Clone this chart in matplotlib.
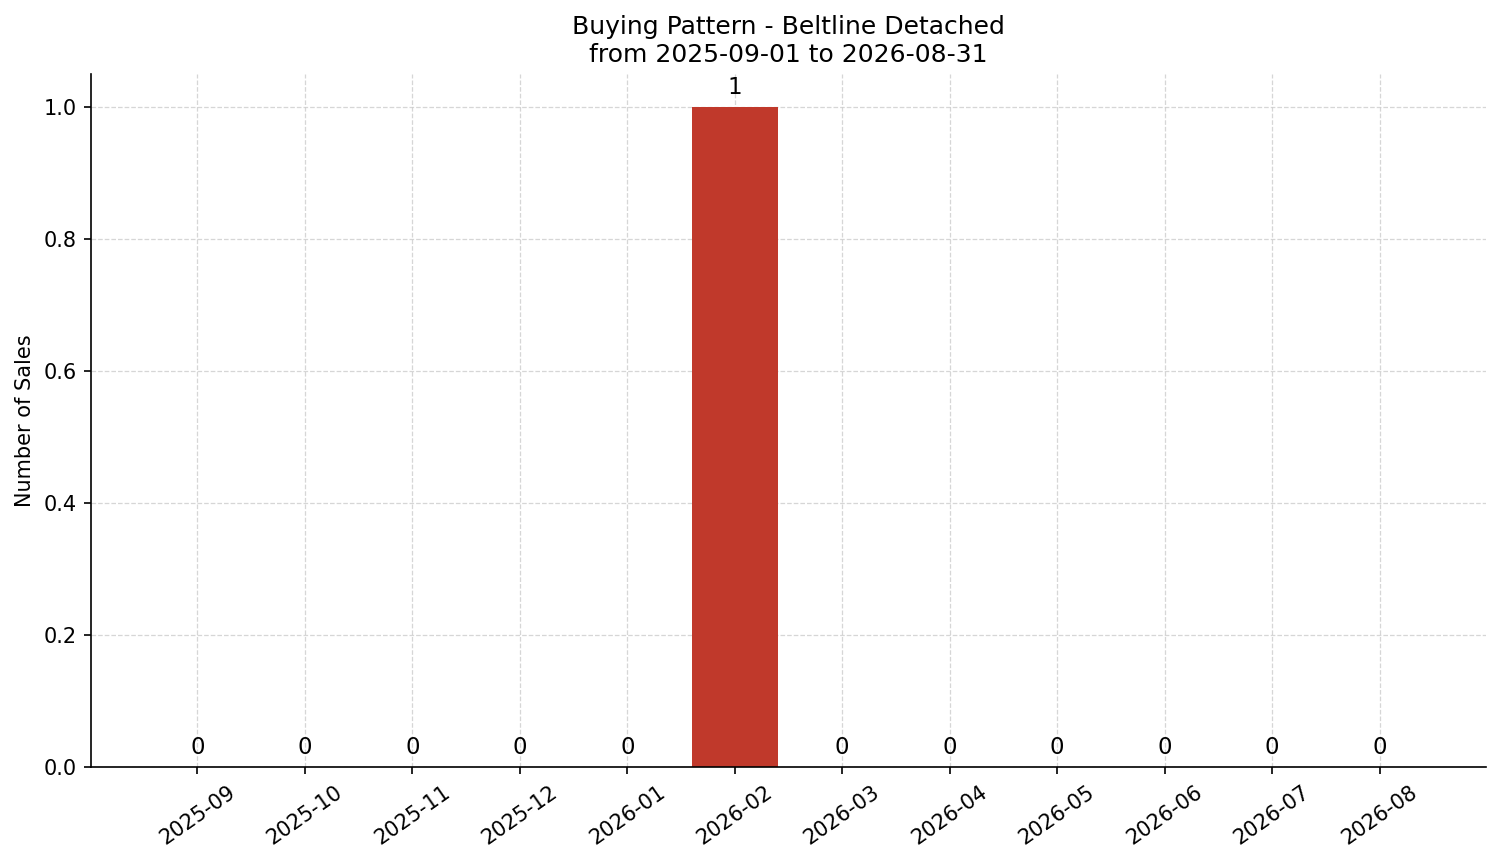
import matplotlib
matplotlib.use("Agg")
import matplotlib.pyplot as plt

# monthly sales counts
months = ["2025-09", "2025-10", "2025-11", "2025-12", "2026-01", "2026-02",
          "2026-03", "2026-04", "2026-05", "2026-06", "2026-07", "2026-08"]
sales = [0, 0, 0, 0, 0, 1, 0, 0, 0, 0, 0, 0]

fig, ax = plt.subplots(figsize=(1501 / 150, 863 / 150), dpi=150)
fig.subplots_adjust(left=0.0606, right=0.990, top=0.914, bottom=0.111)

bars = ax.bar(range(len(months)), sales, width=0.8, color="#c0392b")
for b, v in zip(bars, sales):
    ax.annotate(f"{v}", (b.get_x() + b.get_width() / 2, b.get_height()),
                xytext=(0, 4), textcoords="offset points",
                ha="center", va="bottom", fontsize=11)

ax.set_xticks(range(len(months)))
ax.set_xticklabels(months, rotation=35)
ax.set_ylabel("Number of Sales")
ax.set_title("Buying Pattern - Beltline Detached\nfrom 2025-09-01 to 2026-08-31", fontsize=12)
ax.grid(True, linestyle="--", linewidth=0.6, color="#cccccc", alpha=0.8)
ax.set_axisbelow(True)
ax.spines["top"].set_visible(False)
ax.spines["right"].set_visible(False)
ax.tick_params(labelsize=10)

fig.savefig("out.png", dpi=150)
